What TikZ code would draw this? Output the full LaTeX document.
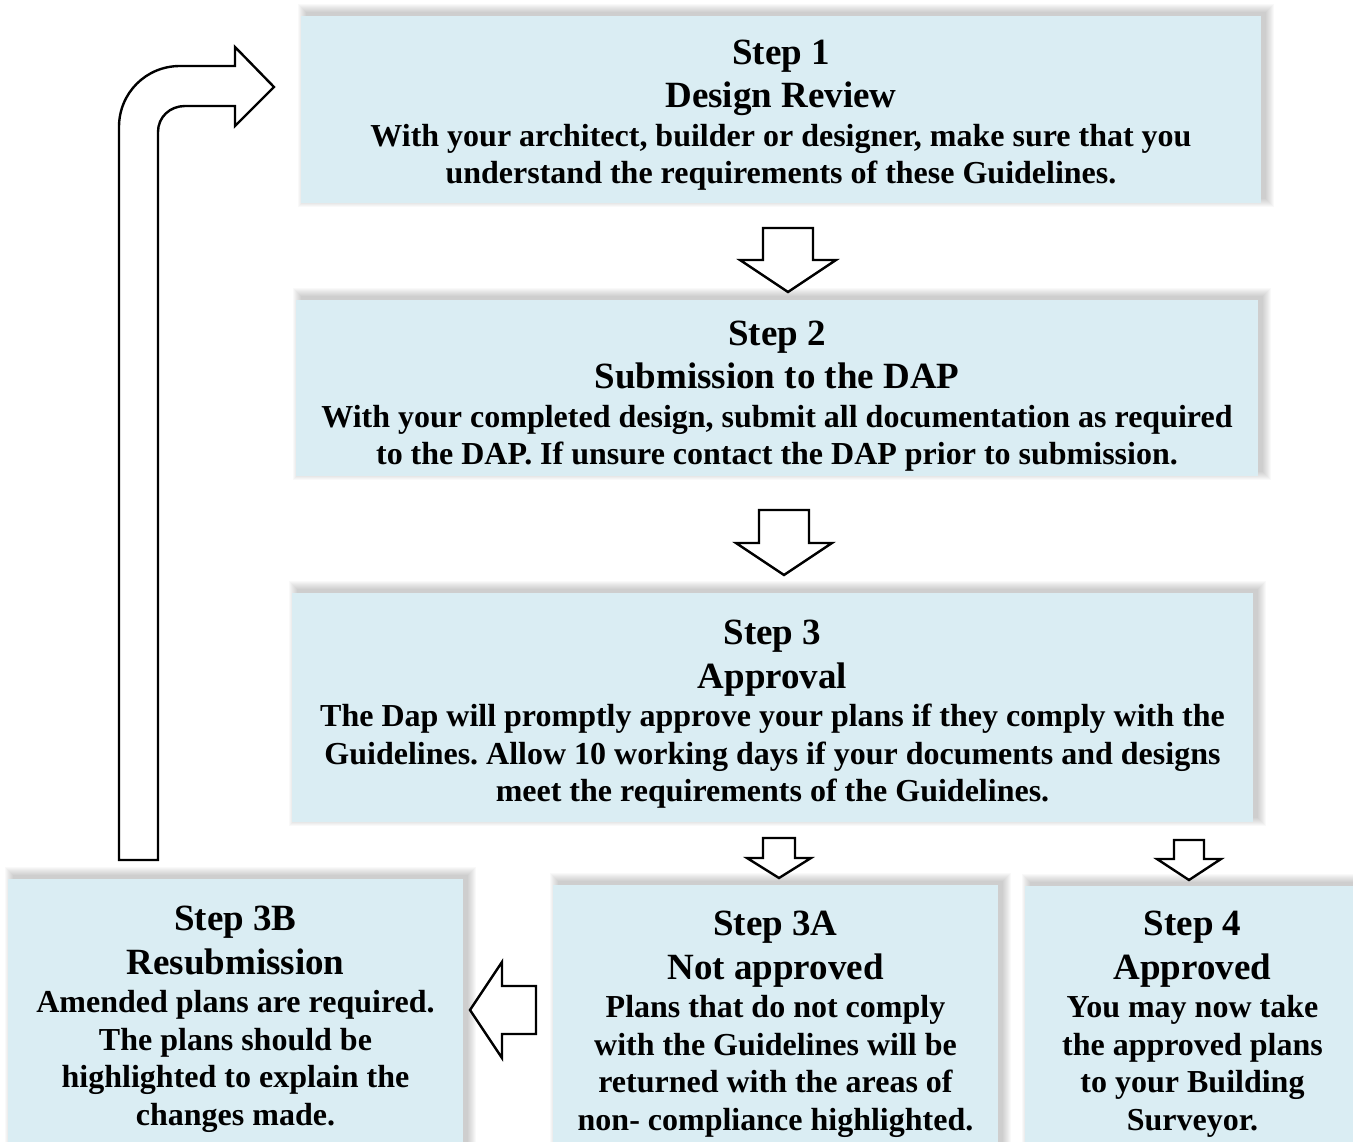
\documentclass[tikz,border=0pt]{standalone}
\usepackage{fontspec}
\setmainfont{Liberation Serif}
\frenchspacing
\definecolor{boxfill}{RGB}{218,237,243}
\tikzset{
  blockarrow/.style={draw=black, line width=2.4pt, fill=white, line join=miter},
  stepbox/.style={fill=boxfill, draw=none, inner sep=0pt, align=center,
    font=\bfseries\fontsize{32}{37.5}\selectfont},
}
\newcommand\hd[1]{{\fontsize{37}{43}\selectfont #1}}
% shadow + box: name, x1, y1, x2, y2, text-shift, text
\newcommand\stepnode[7]{%
  \foreach \k in {0,...,8}{%
    \fill[black, opacity=0.025] (#2+5-\k,#3-4-\k) rectangle (#4+5+\k,#5-4+\k);
  }%
  \fill[boxfill] (#2,#3) rectangle (#4,#5);
  \node[stepbox] (#1) at ({(#2+#4)/2},{(#3+#5)/2+#6}) {#7};
}
\newcommand\blockdn[6]{% cx, ytop, yhead, ytip, shaft half, head half
  \draw[blockarrow] (#1-#5,#2) -- (#1+#5,#2) -- (#1+#5,#3) -- (#1+#6,#3) -- (#1,#4)
    -- (#1-#6,#3) -- (#1-#5,#3) -- cycle;
}
\begin{document}
\begin{tikzpicture}[x=1pt,y=-1pt]
\useasboundingbox (0,0) rectangle (1353,1142);
\begin{scope}
\clip (0,0) rectangle (1353,1142);
\stepnode{b1}{301}{16}{1261}{203}{5.5}{\hd{Step 1}\\[6pt]\hd{Design Review}\\[1pt]
  With your architect, builder or designer, make sure that you\\
  understand the requirements of these Guidelines.}
\stepnode{b2}{296}{300}{1258}{476}{8}{\hd{Step 2}\\[6pt]\hd{Submission to the DAP}\\[1pt]
  With your completed design, submit all documentation as required\\
  to the DAP. If unsure contact the DAP prior to submission.}
\stepnode{b3}{292}{593}{1253}{822}{7}{\hd{Step 3}\\[6pt]\hd{Approval}\\[1pt]
  The Dap will promptly approve your plans if they comply with the\\
  Guidelines. Allow 10 working days if your documents and designs\\
  meet the requirements of the Guidelines.}
\stepnode{b3b}{8}{879}{463}{1150}{5}{\hd{Step 3B}\\[6pt]\hd{Resubmission}\\[1pt]
  Amended plans are required.\\
  The plans should be\\
  highlighted to explain the\\
  changes made.}
\stepnode{b3a}{553}{885}{998}{1150}{7}{\hd{Step 3A}\\[6pt]\hd{Not approved}\\[1pt]
  Plans that do not comply\\
  with the Guidelines will be\\
  returned with the areas of\\
  non- compliance highlighted.}
\stepnode{b4}{1025}{886}{1360}{1150}{6}{\hd{Step 4}\\[6pt]\hd{Approved}\\[1pt]
  You may now take\\
  the approved plans\\
  to your Building\\
  Surveyor.}
\end{scope}
% down arrows
\blockdn{788}{228}{260}{292}{25}{48}
\blockdn{784}{510}{543}{575}{25}{48}
\blockdn{779}{838}{858}{878}{16}{32}
\blockdn{1189}{840}{859}{880}{15}{32}
% left arrow from 3A to 3B
\draw[blockarrow] (536,986) -- (502,986) -- (502,962) -- (470,1010) -- (502,1058)
  -- (502,1034) -- (536,1034) -- cycle;
% bent return arrow from 3B to 1
\draw[blockarrow] (119,860) -- (119,127) .. controls (119,93) and (146,66) .. (180,66)
  -- (235,66) -- (235,47) -- (274,87) -- (235,126) -- (235,106) -- (185,106)
  .. controls (170,106) and (158,117) .. (158,132) -- (158,860) -- cycle;
\end{tikzpicture}
\end{document}
